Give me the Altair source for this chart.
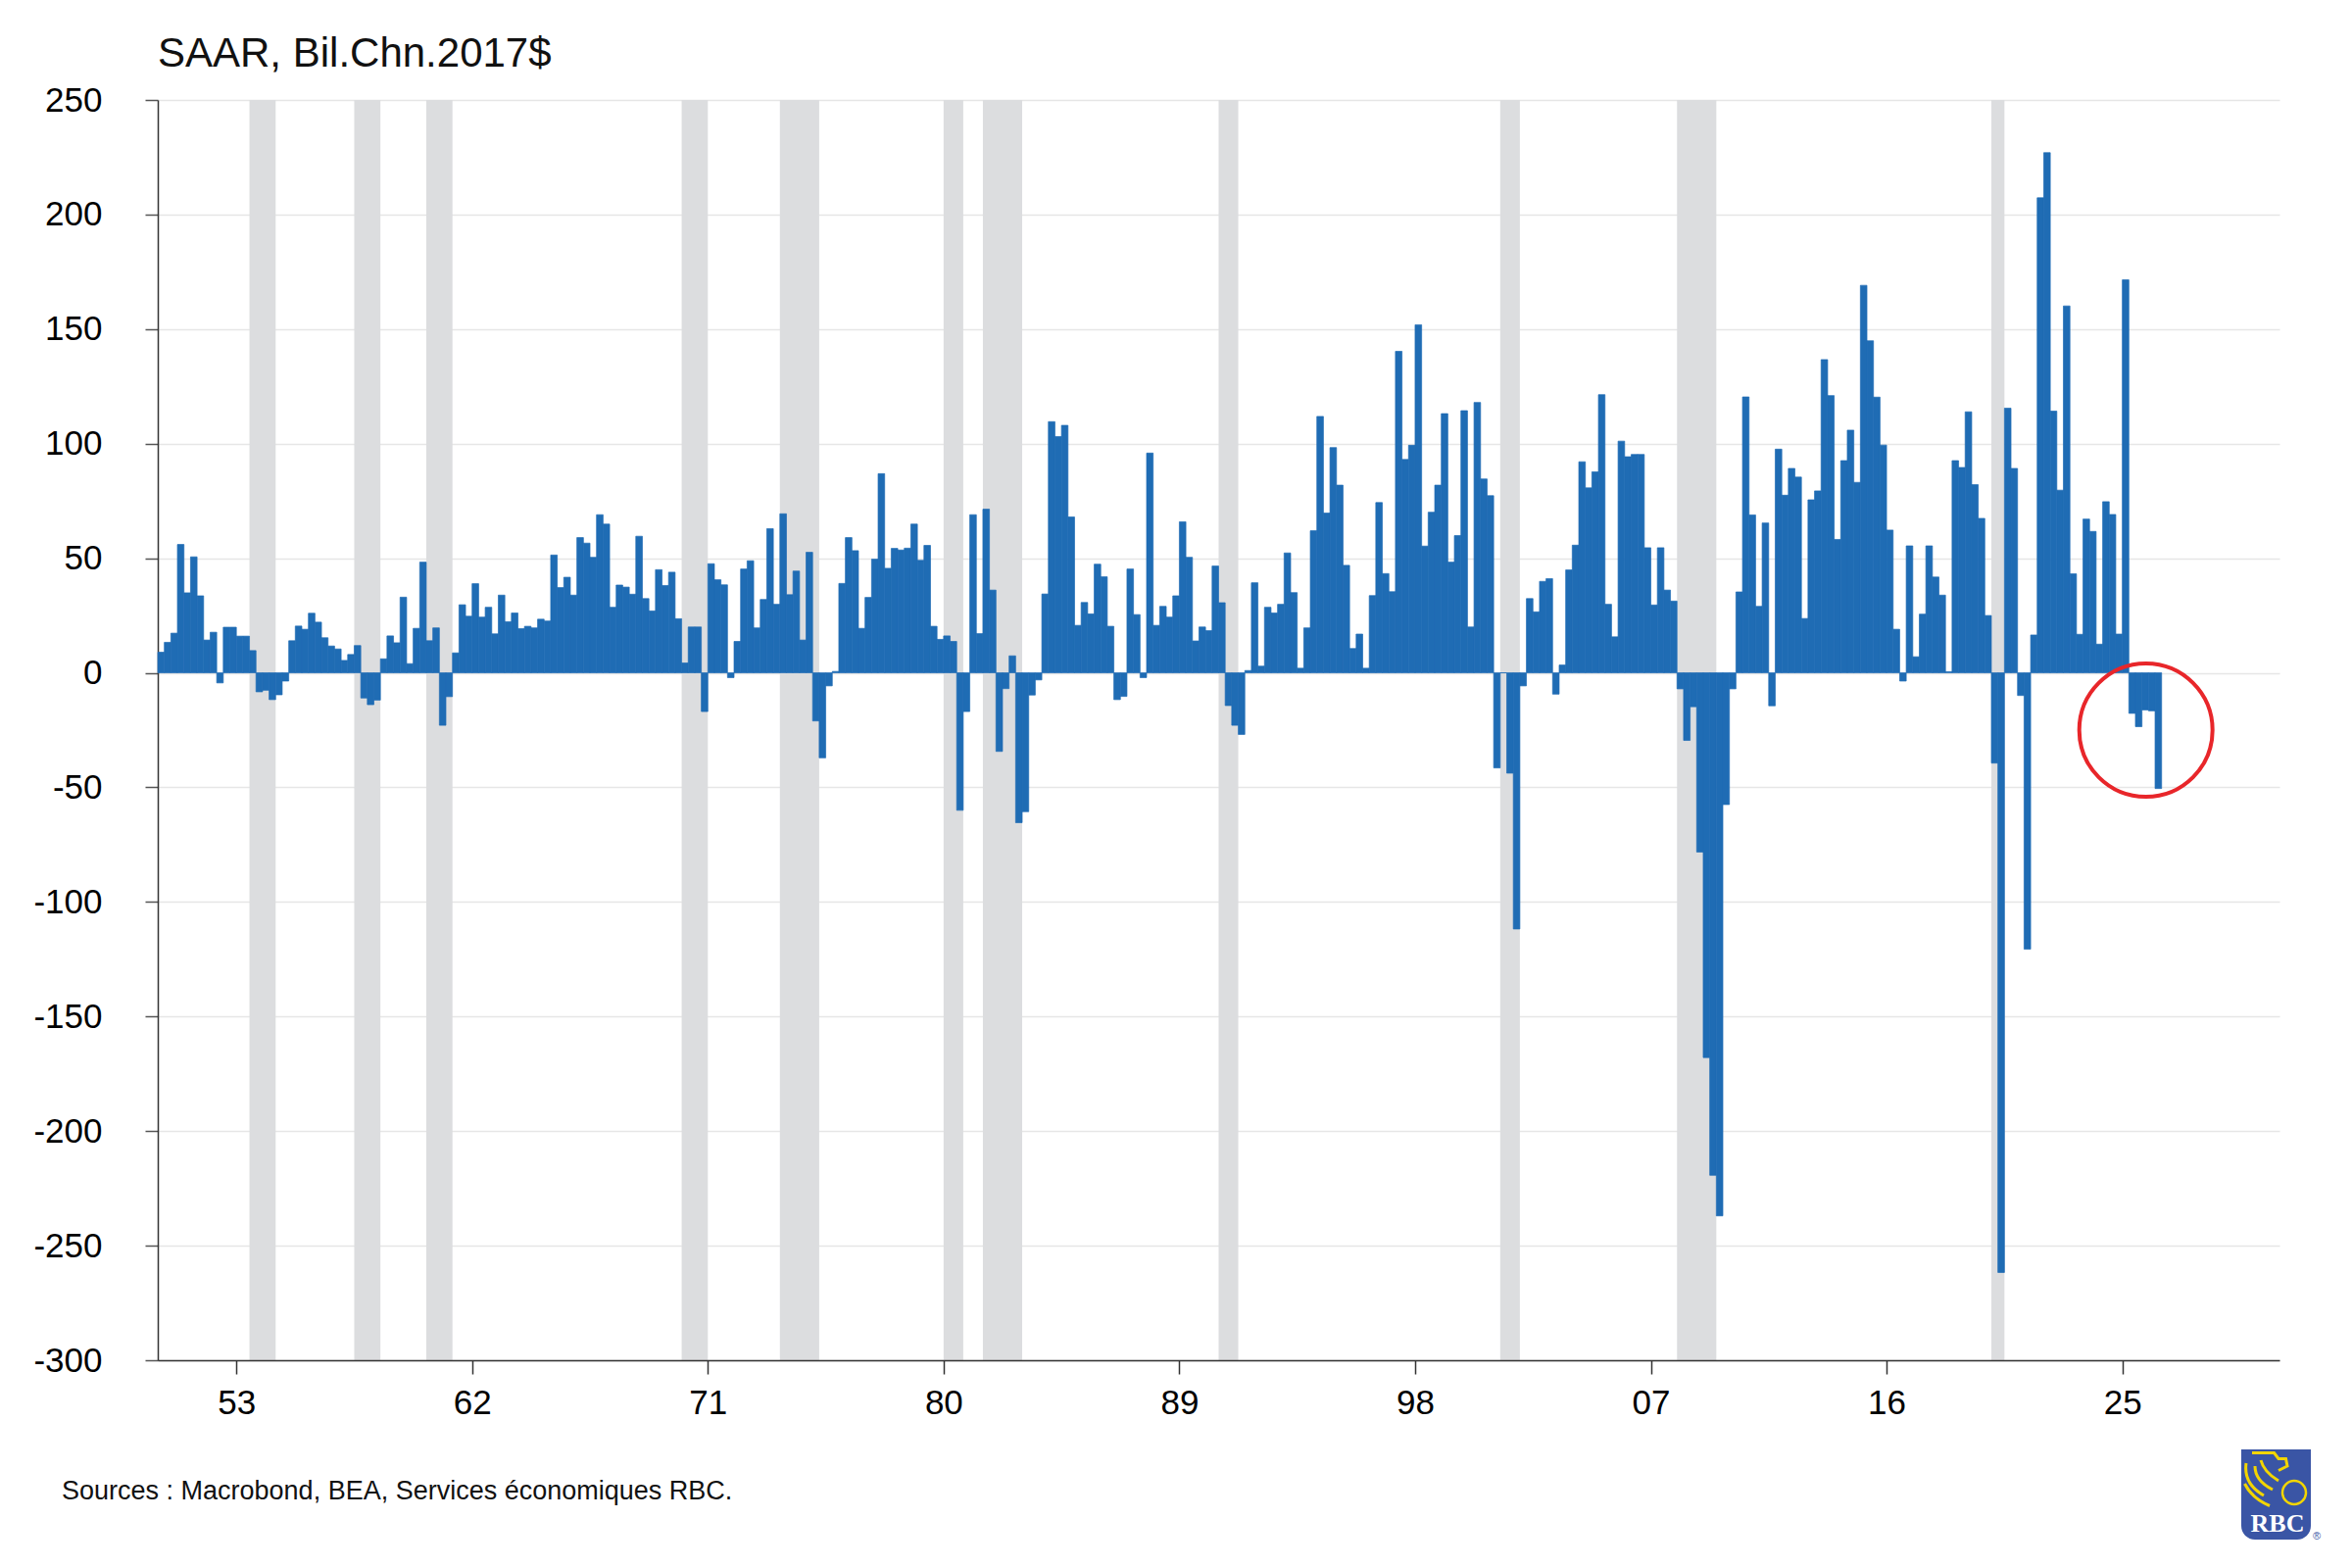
import altair as alt
import pandas as pd

# ---------------- data (quarterly, SAAR, bil. chained 2017$) ----------------
FIRST_YEAR = 1950
q1950s = [9, 13.3, 17.3, 56, 34.9, 50.6, 33.6, 14.3, 17.7, -4.4, 19.9, 19.9,
          16, 16, 9.7, -8.3, -7.6, -11.7, -9.6, -3.6, 14, 20.4, 19, 26,
          22.1, 15.3, 11.7, 10.4, 5.4, 8, 11.9, -11, -13.9, -11.9, 6.1, 16.1,
          13.1, 33, 4, 19.4]
q1960s = [48.3, 14, 19.6, -22.9, -10.4, 8.7, 29.7, 24.7, 38.9, 24.3, 28.6, 17,
          33.9, 22.3, 26.1, 19.3, 20.3, 19.6, 23.4, 22.6, 51.4, 37.2, 41.7, 33.9,
          59, 56.6, 50.4, 69, 64.9, 28.6, 38.3, 37.4, 34.3, 59.6, 32.4, 27,
          45, 38.1, 43.9, 23.6]
q1970s = [4.3, 20, 20, -16.9, 47.6, 40.6, 38.4, -2.1, 13.7, 45.3, 48.9, 19.6,
          32, 62.9, 29.9, 69.4, 34.1, 44.4, 14.3, 52.6, -21, -37.1, -5.7, 0.6,
          39, 59, 53.3, 19.4, 32.9, 49.6, 86.9, 45.6, 54.3, 53.6, 54.4, 64.9,
          49.1, 55.6, 20.3, 14.6]
q1980s = [16.1, 13.7, -60, -16.9, 69, 17.1, 71.4, 36.1, -34.3, -6.9, 7.4, -65.4,
          -60.6, -9.7, -3.1, 34.4, 109.6, 103.1, 108, 68, 20.7, 30.7, 25.7, 47.4,
          41.9, 20.3, -11.7, -10.3, 45.3, 25.4, -2.1, 95.9, 20.7, 29, 24.3, 33.6,
          65.9, 50.4, 13.9, 20]
q1990s = [18.4, 46.6, 30.6, -14.3, -22.9, -26.9, 1, 39.3, 2.9, 28.6, 26.1, 29.9,
          52.3, 35, 2, 19.6, 62, 111.9, 69.7, 98.3, 81.9, 46.9, 10.6, 16.9,
          2, 33.7, 74.3, 43.3, 35.4, 140.3, 93.1, 99.3, 151.9, 55.3, 70.1, 81.9,
          113.1, 48.3, 59.9, 114.4]
q2000s = [20, 118, 84.6, 77.3, -41.5, 0, -43.8, -111.8, -5.7, 32.4, 26.6, 39.9,
          41.1, -9.3, 3.4, 44.9, 55.7, 92.1, 80.7, 87.7, 121.4, 29.9, 15.7, 101.1,
          94.3, 95.3, 95.3, 54.6, 29.6, 54.6, 36.1, 31.3, -7, -29.5, -14.8, -78.2,
          -167.9, -219.3, -237, -57.5]
q2010s = [-7, 35.3, 120.4, 68.9, 29, 65.4, -14.4, 97.6, 77.5, 89.2, 85.4, 23.7,
          75.5, 79.4, 136.7, 121, 58.2, 92.6, 105.9, 83.1, 169.1, 144.9, 120.3, 99.4,
          62.3, 19, -3.6, 55.4, 7, 25.6, 55.4, 41.8, 33.9, 0.5, 92.6, 89.6,
          113.9, 82.1, 67.4, 25]
q2020s = [-39.4, -261.7, 115.5, 89.2, -9.9, -120.6, 16.5, 207.3, 227, 114.2, 79.7, 160.1,
          43.2, 16.8, 67.1, 61.7, 12.5, 74.7, 69.1, 16.9, 171.5, -17.7, -23.5, -16.2,
          -16.6, -50.5]

# recession periods (quarter start, quarter end) in decimal years
rec_start = [1953.5, 1957.5, 1960.25, 1970.0, 1973.75, 1980.0, 1981.5, 1990.5, 2001.25, 2008.0, 2020.0]
rec_end = [1954.5, 1958.5, 1961.25, 1971.0, 1975.25, 1980.75, 1983.0, 1991.25, 2002.0, 2009.5, 2020.5]

x_ticks = [1953, 1962, 1971, 1980, 1989, 1998, 2007, 2016, 2025]
y_ticks = [-300, -250, -200, -150, -100, -50, 0, 50, 100, 150, 200, 250]

highlight_x = [2025.9]
highlight_y = [-25]

title_text = "SAAR, Bil.Chn.2017$"
source_text = "Sources : Macrobond, BEA, Services économiques RBC."

# ---------------- tables ----------------
values = q1950s + q1960s + q1970s + q1980s + q1990s + q2000s + q2010s + q2020s
bars = pd.DataFrame({
    "start": [FIRST_YEAR + i * 0.25 for i in range(len(values))],
    "value": values,
})
bars["end"] = bars["start"] + 0.25
rec = pd.DataFrame({"start": rec_start, "end": rec_end})
hl = pd.DataFrame({"start": highlight_x, "value": highlight_y})
one = pd.DataFrame({"k": [0]})

W, H = 2165, 1286
FONT = "Liberation Sans"
BLUE = "#1f6cb4"

xscale = alt.Scale(domain=[1950, 2031], nice=False, zero=False)
yscale = alt.Scale(domain=[-300, 250], nice=False)

xaxis = alt.Axis(values=x_ticks, labelExpr="substring(toString(datum.value), 2, 4)",
                 title=None, grid=False, tickSize=14, tickWidth=1.5, tickColor="#333",
                 domainColor="#333", domainWidth=1.5, labelPadding=12,
                 labelFont=FONT, labelFontSize=35, labelColor="#000", labelFlush=False,
                 zindex=1)
yaxis = alt.Axis(values=y_ticks, labelExpr="toString(datum.value)", title=None,
                 grid=True, gridColor="#e6e6e6", gridWidth=1.5,
                 tickSize=13, tickWidth=1.5, tickColor="#555",
                 domainColor="#333", domainWidth=1.5, labelPadding=44,
                 labelFont=FONT, labelFontSize=35, labelColor="#000")

X = alt.X("start:Q", scale=xscale, axis=xaxis, title=None)
Y = alt.Y("value:Q", scale=yscale, axis=yaxis, title=None)

shading = alt.Chart(rec).mark_rect(color="#dcdddf").encode(
    x=X, x2="end:Q", y=alt.value(0), y2=alt.value(H),
)

bar_layer = alt.Chart(bars).mark_rect(color=BLUE, stroke=BLUE, strokeWidth=0.7).encode(
    x=X, x2="end:Q", y=Y, y2=alt.datum(0),
)

circle = alt.Chart(hl).mark_point(shape="circle", filled=False, size=136 ** 2,
                                  strokeWidth=4, color="#e8262a", opacity=1).encode(
    x=X, y=Y,
)

title = alt.Chart(one).mark_text(text=title_text, font=FONT, fontSize=42, color="#111",
                                 align="left", baseline="alphabetic").encode(
    x=alt.value(0), y=alt.value(-34))

source = alt.Chart(one).mark_text(text=source_text, font=FONT, fontSize=27, color="#111",
                                  align="left", baseline="alphabetic").encode(
    x=alt.value(-98), y=alt.value(1428))

# RBC logo (decorative)
logo_box = alt.Chart(one).mark_rect(color="#3a55a5", cornerRadiusBottomLeft=14,
                                    cornerRadiusBottomRight=14).encode(
    x=alt.value(2126), x2=alt.value(2197), y=alt.value(1377), y2=alt.value(1469))
lion_path = ("M -0.6 -0.95 L 0.15 -0.95 L 0.3 -0.75 L 0.55 -0.75 L 0.6 -0.5 L 0.3 -0.35 "
             "M -0.8 -0.6 Q -0.9 0.1 -0.2 0.5 M -0.85 0.1 Q -0.6 0.6 0.0 0.85 "
             "M -0.5 -0.5 Q -0.5 0.0 0.1 0.3 M -0.3 -0.7 Q -0.2 -0.3 0.3 0.0")
lion = alt.Chart(one).mark_point(shape=lion_path, filled=False, size=3600,
                                 strokeWidth=3, color="#f2d500", opacity=1).encode(
    x=alt.value(2155), y=alt.value(1409))
globe = alt.Chart(one).mark_point(shape="circle", filled=False, size=24 ** 2,
                                  strokeWidth=2.5, color="#f2d500", opacity=1).encode(
    x=alt.value(2180), y=alt.value(1421))
logo_text = alt.Chart(one).mark_text(text="RBC", font="Liberation Serif", fontWeight="bold",
                                     fontSize=26, color="#ffffff", align="center",
                                     baseline="alphabetic").encode(
    x=alt.value(2163), y=alt.value(1461))
reg = alt.Chart(one).mark_text(text="®", font=FONT, fontSize=11, color="#3a55a5",
                               align="left", baseline="alphabetic").encode(
    x=alt.value(2199), y=alt.value(1469))

chart = alt.layer(shading, bar_layer, circle, title, source,
                  logo_box, lion, globe, logo_text, reg).properties(
    width=W, height=H,
    autosize=alt.AutoSizeParams(type="none"),
    padding={"left": 153, "top": 94, "right": 64, "bottom": 190},
    background="#ffffff",
).configure_view(stroke=None)

chart.save("out.html", embed_options={"renderer": "svg", "actions": False})
